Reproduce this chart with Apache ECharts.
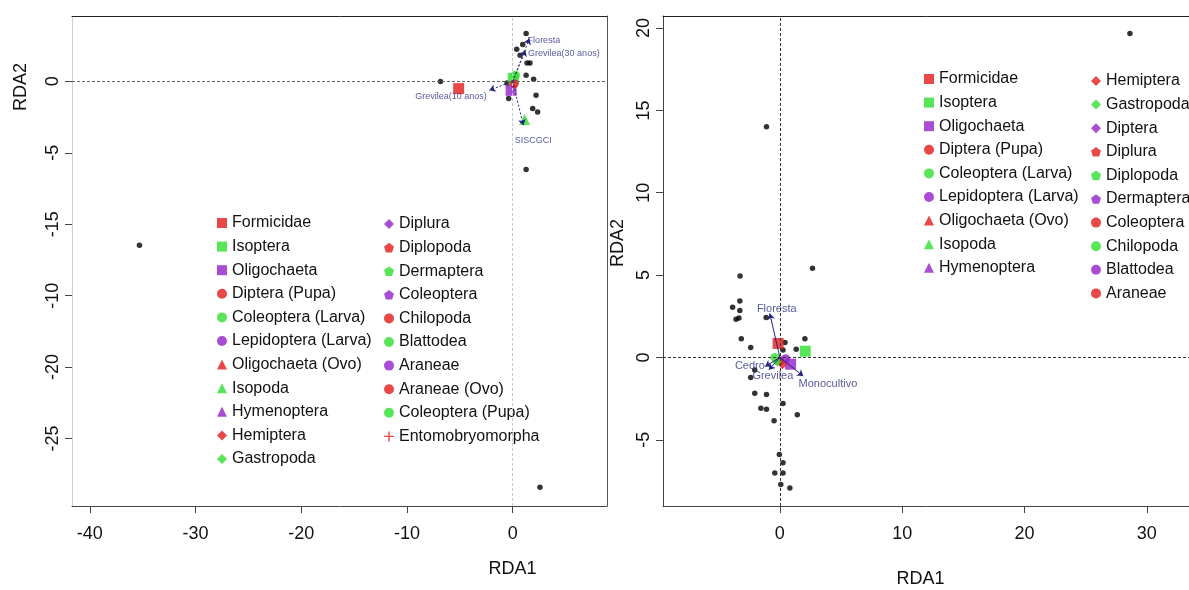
<!DOCTYPE html>
<html>
<head>
<meta charset="utf-8">
<script src="https://cdn.jsdelivr.net/npm/echarts@6/dist/echarts.min.js"></script>
<style>
html, body { margin: 0; background: #fff; }
#chart { width: 1189px; height: 590px; }
</style>
</head>
<body>
<div id="chart"></div>
<script>
// ---- data: left panel (RDA, 4 land uses) ----
var leftSiteX = [1.27, 0.95, 0.38, 0.70, 1.36, 1.64, 1.27, 1.98, -6.83, -0.53, 2.21, -0.38, 1.89, 2.36, 1.27, -35.3, 2.58];
var leftSiteY = [3.34, 2.57, 2.24, 1.82, 1.28, 1.28, 0.42, 0.14, -0.02, -0.12, -0.98, -1.21, -1.91, -2.15, -6.17, -11.48, -28.41];

var leftSpecies = ['Formicidae', 'Isoptera', 'Oligochaeta', 'Diptera (Pupa)', 'Coleoptera (Larva)', 'Lepidoptera (Larva)',
    'Oligochaeta (Ovo)', 'Isopoda', 'Hymenoptera', 'Hemiptera', 'Gastropoda', 'Diplura', 'Diplopoda', 'Dermaptera',
    'Coleoptera', 'Chilopoda', 'Blattodea', 'Araneae', 'Araneae (Ovo)', 'Coleoptera (Pupa)', 'Entomobryomorpha'];
var leftSpX = [-5.11, 0.05, -0.15, 0.16, 0.26, null, null, 1.13, null, null, null, null, null, null, null, null, null, null, null, null, null];
var leftSpY = [-0.51, 0.20, -0.63, -0.16, 0.42, null, null, -2.68, null, null, null, null, null, null, null, null, null, null, null, null, null];

var leftEnv = ['Floresta', 'Grevilea(30 anos)', 'Grevilea(10 anos)', 'SISCGCI'];
var leftEnvX = [1.58, 1.20, -2.20, 1.01];
var leftEnvY = [3.00, 2.17, -0.63, -3.08];
var leftEnvLabelX = [2.95, 4.84, -5.84, 1.94];
var leftEnvLabelY = [2.87, 1.96, -1.03, -4.13];

var leftXTicks = [-40, -30, -20, -10, 0];
var leftYTicks = [0, -5, -10, -15, -20, -25];
var leftYTickLabels = ['0', '-5', '-15', '-10', '-20', '-25'];

// ---- data: right panel ----
var rightSiteX = [28.62, -1.09, 2.67, -3.25, -3.27, -3.86, -3.27, -3.58, -3.34, -1.12, -3.15, 2.05, -2.38, 0.42, 1.34, 0.26,
    -2.05, -2.38, -2.05, -1.09, 0.26, -1.55, -1.09, 1.43, -0.47, -0.04, 0.26, -0.41, 0.26, 0.08, 0.82];
var rightSiteY = [19.67, 14.01, 5.42, 4.95, 3.42, 3.05, 2.85, 2.32, 2.39, 2.43, 1.13, 1.13, 0.61, 0.90, 0.50, 0.45,
    -0.76, -1.22, -2.18, -2.25, -2.79, -3.09, -3.14, -3.48, -3.84, -5.90, -6.40, -7.01, -7.01, -7.72, -7.93];

var rightSpecies = ['Formicidae', 'Isoptera', 'Oligochaeta', 'Diptera (Pupa)', 'Coleoptera (Larva)', 'Lepidoptera (Larva)',
    'Oligochaeta (Ovo)', 'Isopoda', 'Hymenoptera', 'Hemiptera', 'Gastropoda', 'Diptera', 'Diplura', 'Diplopoda',
    'Dermaptera', 'Coleoptera', 'Chilopoda', 'Blattodea', 'Araneae'];
var rightSpX = [-0.14, 2.08, 0.88, 0.00, -0.41, 0.47, null, null, null, 0.22, -0.22, null, null, null, null, null, null, null, null];
var rightSpY = [0.85, 0.38, -0.41, -0.20, 0.00, -0.08, null, null, null, -0.45, -0.27, null, null, null, null, null, null, null, null];

var rightEnv = ['Floresta', 'Monocultivo', 'Cedro', 'Grevilea'];
var rightEnvX = [-0.82, 1.91, -1.20, -0.90];
var rightEnvY = [2.67, -1.13, -0.55, -0.75];
var rightEnvLabelX = [-0.25, 3.93, -2.45, -0.57];
var rightEnvLabelY = [2.96, -1.60, -0.51, -1.15];

var rightXTicks = [0, 10, 20, 30];
var rightYTicks = [-5, 0, 5, 10, 15, 20];

// ---- style ----
var FONT = "'Liberation Sans', Arial, sans-serif";
var RED = '#E41A1C', GREEN = '#2EE02E', PURPLE = '#9322C9', NAVY = '#22227F';
var pentagon = 'path://M5,0L10,3.7L8.1,9.6L1.9,9.6L0,3.7Z';
var plus = 'path://M4.3,0H5.7V4.3H10V5.7H5.7V10H4.3V5.7H0V4.3H4.3Z';
var shapes = ['rect', 'circle', 'triangle', 'diamond', pentagon, 'circle', 'circle'];
var shapeSize = [11, 9, 11, 9, 9, 7, 7];

function spColor(name, i) {
    if (name === 'Entomobryomorpha') return RED;
    return [RED, GREEN, PURPLE][i % 3];
}
function spShape(name, i) {
    if (name === 'Entomobryomorpha') return plus;
    return shapes[Math.floor(i / 3)];
}

function zip(xs, ys) {
    var out = [];
    for (var i = 0; i < xs.length; i++) out.push([xs[i], ys[i]]);
    return out;
}

var series = [];

function addPanel(p, siteX, siteY, sp, spX, spY, env, envX, envY, labX, labY, dashedArrows, labelSize, hColor, vColor) {
    // reference lines at zero
    series.push({
        type: 'scatter', xAxisIndex: p * 2, yAxisIndex: p * 2, data: [], silent: true,
        markLine: {
            symbol: 'none', silent: true, label: { show: false }, animation: false,
            data: [
                { yAxis: 0, lineStyle: { color: hColor, type: [3, 2], width: 1 } },
                { xAxis: 0, lineStyle: { color: vColor, type: [3, 2], width: 1 } }
            ]
        }
    });
    // sites
    series.push({
        type: 'scatter', xAxisIndex: p * 2, yAxisIndex: p * 2, symbolSize: 5.5,
        itemStyle: { color: '#000' }, data: zip(siteX, siteY), z: 3
    });
    // species
    sp.forEach(function (name, i) {
        var d = spX[i] == null ? [] : [[spX[i], spY[i]]];
        series.push({
            type: 'scatter', name: name, xAxisIndex: p * 2, yAxisIndex: p * 2,
            symbol: spShape(name, i), symbolSize: shapeSize[Math.floor(i / 3)] || 9,
            itemStyle: { color: spColor(name, i) }, data: d, z: 4
        });
    });
    // environmental arrows
    series.push({
        type: 'lines', coordinateSystem: 'cartesian2d', xAxisIndex: p * 2, yAxisIndex: p * 2,
        symbol: ['none', 'arrow'], symbolSize: 6, z: 5,
        lineStyle: { color: NAVY, width: 1, type: dashedArrows ? [2, 2] : 'solid', opacity: 1 },
        data: env.map(function (n, i) { return { coords: [[0, 0], [envX[i], envY[i]]] }; })
    });
    series.push({
        type: 'scatter', xAxisIndex: p * 2, yAxisIndex: p * 2, symbolSize: 0, z: 6,
        label: {
            show: true, position: 'inside', color: '#2E2E86', fontFamily: FONT, fontSize: labelSize,
            formatter: function (prm) { return prm.data[2]; }
        },
        data: env.map(function (n, i) { return [labX[i], labY[i], n]; })
    });
}

addPanel(0, leftSiteX, leftSiteY, leftSpecies, leftSpX, leftSpY, leftEnv, leftEnvX, leftEnvY,
    leftEnvLabelX, leftEnvLabelY, true, 9, '#666', '#c8c8c8');
addPanel(1, rightSiteX, rightSiteY, rightSpecies, rightSpX, rightSpY, rightEnv, rightEnvX, rightEnvY,
    rightEnvLabelX, rightEnvLabelY, false, 11, '#333', '#333');

function legendCol(names, allNames, left, top) {
    return {
        orient: 'vertical', left: left, top: top, padding: 0, itemGap: 3.6,
        itemWidth: 10, itemHeight: 10, selectedMode: false,
        textStyle: { fontFamily: FONT, fontSize: 16, lineHeight: 20, color: '#111' },
        data: names.map(function (n) {
            var i = allNames.indexOf(n);
            return { name: n, icon: spShape(n, i), itemStyle: { color: spColor(n, i) } };
        })
    };
}

var axisText = { fontFamily: FONT, fontSize: 18, color: '#111' };
var lineCol = '#444';

function xAxisDef(p, min, max, ticks, margin, nameGap, namePad) {
    return {
        gridIndex: p, type: 'value', min: min, max: max,
        axisLine: { show: true, onZero: false, lineStyle: { color: lineCol } },
        axisTick: { show: true, length: 7, customValues: ticks, lineStyle: { color: lineCol } },
        axisLabel: Object.assign({ customValues: ticks, margin: margin }, axisText),
        splitLine: { show: false },
        name: 'RDA1', nameLocation: 'middle', nameGap: nameGap,
        nameTextStyle: Object.assign({ padding: namePad }, axisText)
    };
}
function yAxisDef(p, min, max, ticks, labels, nameGap, namePad, leftCol) {
    return {
        gridIndex: p, type: 'value', min: min, max: max,
        axisLine: { show: true, onZero: false, lineStyle: { color: leftCol } },
        axisTick: { show: true, length: 7, customValues: ticks, lineStyle: { color: lineCol } },
        axisLabel: Object.assign({
            customValues: ticks, margin: 10, rotate: 90,
            formatter: function (v) {
                var k = ticks.indexOf(v);
                return labels ? labels[k] : String(v);
            }
        }, axisText),
        splitLine: { show: false },
        name: 'RDA2', nameLocation: 'middle', nameGap: nameGap, nameRotate: 90,
        nameTextStyle: Object.assign({ padding: namePad }, axisText)
    };
}
// frame lines on the other two sides
function frameX(p, min, max) {
    return {
        gridIndex: p, type: 'value', position: 'top', min: min, max: max,
        axisLine: { show: true, onZero: false, lineStyle: { color: '#222' } },
        axisTick: { show: false }, axisLabel: { show: false }, splitLine: { show: false }
    };
}
function frameY(p, min, max, col) {
    return {
        gridIndex: p, type: 'value', position: 'right', min: min, max: max,
        axisLine: { show: true, onZero: false, lineStyle: { color: col } },
        axisTick: { show: false }, axisLabel: { show: false }, splitLine: { show: false }
    };
}

var chart = echarts.init(document.getElementById('chart'));
chart.setOption({
    animation: false,
    backgroundColor: '#fff',
    grid: [
        { left: 72, top: 16, width: 535, height: 490, outerBoundsMode: 'none' },
        { left: 663, top: 16, width: 545, height: 490, outerBoundsMode: 'none' }
    ],
    xAxis: [
        xAxisDef(0, -41.68, 8.92, leftXTicks, 19, 54, [0, 0, 0, 346]),
        frameX(0, -41.68, 8.92),
        xAxisDef(1, -9.55, 35, rightXTicks, 19, 64, [0, 30, 0, 0]),
        frameX(1, -9.55, 35)
    ],
    yAxis: [
        yAxisDef(0, -29.72, 4.57, leftYTicks, leftYTickLabels, 42, [0, 0, 0, 348], '#d0d0d0'),
        frameY(0, -29.72, 4.57, '#555'),
        yAxisDef(1, -9.02, 20.73, rightYTicks, null, 36, [0, 0, 0, 36], lineCol),
        frameY(1, -9.02, 20.73, lineCol)
    ],
    legend: [
        legendCol(leftSpecies.slice(0, 11), leftSpecies, 217, 213),
        legendCol(leftSpecies.slice(11), leftSpecies, 384, 214),
        legendCol(rightSpecies.slice(0, 9), rightSpecies, 924, 69),
        legendCol(rightSpecies.slice(9), rightSpecies, 1091, 71)
    ],
    series: series
});
</script>
</body>
</html>
